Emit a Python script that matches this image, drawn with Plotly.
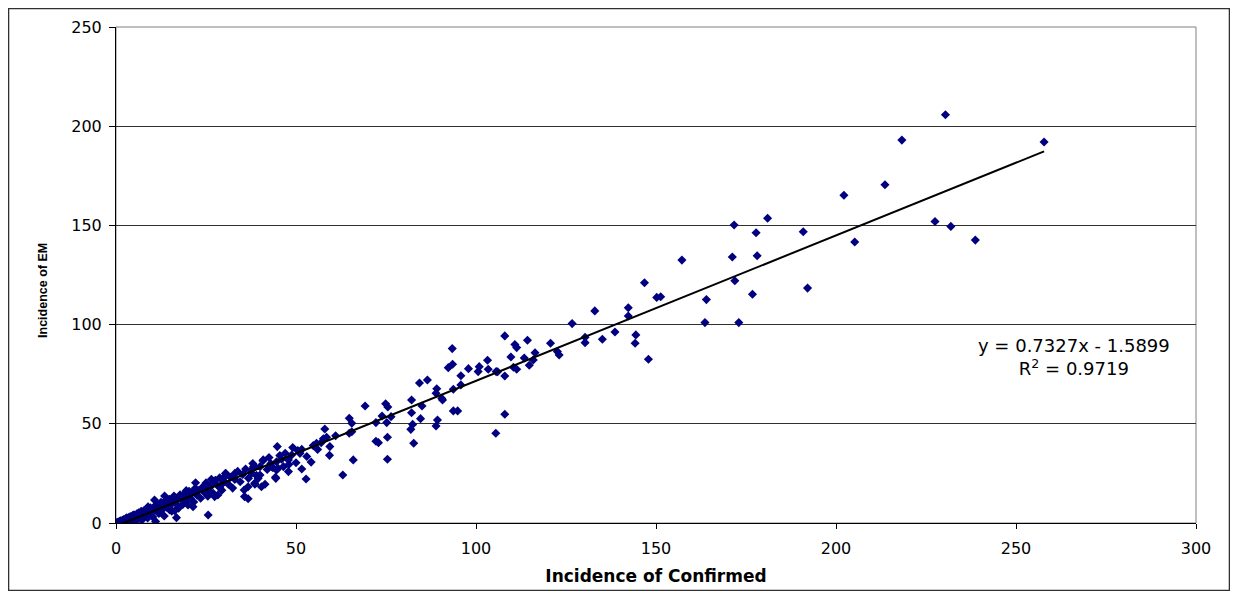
import plotly.graph_objects as go

# ---- data ----
confirmed = [
    230.4, 218.3, 257.8, 213.6, 202.2, 227.5, 231.9, 205.2, 238.7, 190.9, 192.1, 181.0, 177.8, 178.1,
    171.7, 171.2, 171.9, 176.8, 173.0, 163.6, 164.0, 157.2, 150.2, 151.3, 146.8, 147.9,
    142.3, 142.3, 144.4, 144.2, 138.6, 135.1, 133.0, 130.3, 130.3, 126.7, 120.7, 122.6, 123.1, 114.3,
    110.8, 111.3, 108.0, 116.4, 113.4, 115.9, 109.7, 114.8, 111.3, 110.4, 108.0, 105.6, 106.0, 103.2,
    103.4, 100.9, 100.6, 97.9, 93.4, 93.5, 92.3, 95.8, 95.8, 93.7, 90.5, 90.7, 93.7, 94.9, 108.0, 105.5,
    84.3, 86.5, 89.1, 88.9, 82.1, 82.1, 85.0, 84.6, 82.4, 81.9, 89.3, 88.9, 82.7, 69.2, 74.9, 75.5,
    76.4, 75.2, 73.9, 72.2, 75.4, 72.2, 72.9, 75.4, 64.8, 65.5, 64.8, 65.5, 65.9, 63.0, 58.0, 58.5,
    57.6, 55.7, 59.4, 56.0, 59.3, 54.2, 52.8, 51.6, 51.1, 49.1, 47.0, 48.8, 44.8, 47.9, 46.0, 50.0,
    51.6, 44.6, 43.2, 44.6, 46.5, 47.9, 44.4, 40.9, 40.0, 38.6, 37.7, 40.0, 39.5, 41.4, 38.6,
    40.8, 38.2, 43.6, 45.0, 38.5, 40.4, 36.7, 35.6, 44.3, 33.0, 30.4, 30.2, 26.5, 22.1, 24.6, 25.6,
    19.5, 20.9, 13.5, 16.1, 28.8, 29.7, 28.3, 27.4, 35.7, 36.7, 20.0, 21.4, 14.9, 16.3, 16.8, 25.6,
    11.2, 10.7, 8.9, 7.5, 6.1,
    0.2, 0.4, 0.5, 0.7, 0.9, 1.0, 1.2, 1.3, 1.5, 1.6, 1.8, 2.0, 2.1, 2.3, 2.5, 2.7, 2.9, 3.0, 3.2, 3.4,
    3.6, 3.8, 4.0, 4.2, 4.4, 4.6, 4.8, 5.0,
    5.3, 5.5, 5.8, 6.0, 6.3, 6.5, 6.8, 7.0, 7.2, 7.5, 7.8, 8.0, 8.3, 8.5, 8.8, 9.0, 9.3, 9.6, 9.9,
    10.2, 10.5, 10.8, 11.0, 11.3, 11.6, 11.9,
    12.2, 12.5, 12.8, 13.1, 13.4, 13.8, 14.1, 14.5, 14.8, 15.2, 15.5, 15.9, 16.3, 16.7, 17.0, 17.4,
    17.8, 18.2, 18.6, 19.0, 19.4, 19.8, 20.3, 20.7, 21.2, 21.6, 22.0, 22.5, 23.0, 23.5, 24.0, 24.5,
    25.0, 25.5, 26.0, 26.5, 27.0, 27.6, 28.2, 28.8, 29.4, 30.0, 30.6, 31.2, 31.8, 32.4, 33.0, 33.8,
    34.5, 35.2, 36.0, 36.8, 37.5, 38.0, 39.0, 42.0, 42.5, 43.0, 45.5, 48.0, 50.5, 53.0, 54.8, 57.0, 61.0,
]
em = [
    205.8, 193.0, 192.0, 170.5, 165.2, 152.0, 149.5, 141.6, 142.6, 146.8, 118.4, 153.6, 146.3, 134.7,
    150.2, 134.1, 122.1, 115.3, 101.0, 101.0, 112.6, 132.5, 113.7, 114.0, 121.1, 82.5,
    108.5, 104.3, 94.8, 90.6, 96.3, 92.6, 106.9, 90.9, 93.6, 100.5, 90.6, 86.4, 84.7, 92.1,
    90.0, 88.4, 94.3, 85.8, 83.2, 82.2, 83.7, 79.5, 77.5, 78.5, 74.1, 76.3, 76.2, 82.0,
    77.5, 78.8, 76.3, 77.8, 87.9, 80.0, 78.3, 74.2, 69.6, 67.4, 62.8, 62.0, 56.5, 56.5, 54.8, 45.2,
    70.6, 72.1, 67.7, 65.4, 62.0, 55.6, 59.0, 52.6, 49.7, 47.2, 51.9, 48.9, 40.2, 59.0, 60.1, 58.5,
    53.6, 50.6, 53.9, 50.6, 43.2, 41.2, 40.5, 32.1, 52.8, 50.3, 45.2, 46.0, 31.8, 24.2, 47.4, 43.2,
    42.5, 40.2, 38.5, 37.1, 34.1, 30.7, 22.2, 37.1, 35.1, 38.0, 35.1, 34.3, 38.5, 31.8, 32.1, 30.4,
    27.2, 30.9, 28.4, 26.7, 28.4, 25.9, 22.5, 31.8, 28.4, 28.4, 25.1, 24.2, 22.5, 19.5, 19.5,
    31.4, 28.4, 27.9, 27.6, 20.0, 18.3, 18.3, 16.6, 23.0, 25.0, 25.0, 23.3, 22.0, 20.3, 18.6, 16.6,
    16.3, 15.0, 13.6, 13.6, 18.0, 20.0, 14.1, 13.3, 13.3, 12.2, 9.1, 8.2, 6.6, 6.2, 2.7, 4.0,
    8.2, 11.6, 8.2, 5.7, 4.5,
    0.1, 0.3, 0.0, 0.5, 0.2, 0.8, 0.4, 1.1, 0.6, 0.0, 1.4, 0.9, 1.8, 0.5, 1.6, 2.2, 1.0, 2.6, 1.7, 0.3,
    2.9, 2.0, 3.3, 1.2, 2.7, 3.8, 2.1, 4.1,
    2.8, 0.9, 4.6, 3.5, 5.2, 2.4, 4.0, 5.9, 1.5, 4.8, 6.3, 3.6, 5.7, 7.0, 2.5, 6.2, 4.4, 7.6, 5.8,
    3.1, 8.1, 6.5, 0.8, 9.0, 7.0, 4.8,
    8.8, 10.4, 6.6, 9.5, 3.5, 11.2, 8.0, 10.2, 12.0, 9.1, 6.0, 11.5, 13.0, 9.8, 11.8, 7.5,
    14.2, 12.0, 9.4, 14.8, 11.2, 13.6, 16.0, 12.4, 15.2, 10.6, 17.5, 14.0, 16.4, 12.5, 18.0, 15.5,
    20.2, 13.5, 17.8, 19.6, 15.0, 21.5, 18.9, 22.8, 16.5, 21.0, 24.8, 19.5, 23.0, 17.6, 22.0, 26.0,
    20.8, 24.5, 27.2, 22.5, 26.5, 30.0, 24.0, 27.0, 33.0, 30.0, 34.0, 29.5, 36.5, 33.5, 39.0, 40.5, 44.0,
]

trend_slope = 0.7327
trend_intercept = -1.5899
r_squared = 0.9719

x_ticks = [0, 50, 100, 150, 200, 250, 300]
y_ticks = [0, 50, 100, 150, 200, 250]

# trendline spans the data range
tx = [min(confirmed), max(confirmed)]
ty = [trend_slope * v + trend_intercept for v in tx]

fig = go.Figure()
fig.add_trace(go.Scatter(
    x=confirmed, y=em, mode="markers",
    marker=dict(symbol="diamond", size=7, color="#000080", line=dict(width=0)),
    showlegend=False, hoverinfo="x+y",
))
fig.add_trace(go.Scatter(
    x=tx, y=ty, mode="lines", line=dict(color="black", width=2),
    showlegend=False, hoverinfo="skip",
))

wide_font = "DejaVu Sans, Verdana, sans-serif"
narrow_font = "Liberation Sans, Arial, sans-serif"

fig.update_layout(
    width=1222, height=583,
    margin=dict(l=108, r=34, t=19, b=68),
    paper_bgcolor="white", plot_bgcolor="white",
    font=dict(family=wide_font, size=16, color="black"),
    xaxis=dict(
        range=[0, 300], tickvals=x_ticks, ticks="outside", ticklen=5, tickcolor="black",
        ticklabelstandoff=6, automargin=False,
        showgrid=False, zeroline=False, showline=True, linecolor="black", linewidth=1,
        title=dict(text="<b>Incidence of Confirmed</b>", font=dict(family=wide_font, size=17),
                   standoff=12),
        tickfont=dict(family=wide_font, size=16),
    ),
    yaxis=dict(
        range=[0, 250], tickvals=y_ticks, ticks="outside", ticklen=6, tickcolor="black",
        ticklabelstandoff=4, automargin=False,
        showgrid=True, gridcolor="#303030", gridwidth=1, zeroline=False,
        showline=True, linecolor="black", linewidth=1,
        tickfont=dict(family=wide_font, size=16),
    ),
    shapes=[
        dict(type="rect", xref="paper", yref="paper", x0=0, x1=1, y0=0, y1=1,
             line=dict(color="#808080", width=1), layer="below"),
        dict(type="rect", xref="paper", yref="paper",
             x0=-0.0995, x1=1.0310, y0=-0.1361, y1=1.0373,
             line=dict(color="#303030", width=1.5), layer="below"),
    ],
    annotations=[
        dict(x=266.1, y=83.7, xref="x", yref="y", showarrow=False, align="center",
             xanchor="center", yanchor="middle",
             text=f"y = {trend_slope}x - {abs(trend_intercept)}<br>R<sup>2</sup> = {r_squared}",
             font=dict(family=wide_font, size=18, color="black")),
        dict(x=-0.0676, y=0.4698, xref="paper", yref="paper", showarrow=False,
             xanchor="center", yanchor="middle",
             textangle=-90, text="<b>Incidence of EM</b>",
             font=dict(family=narrow_font, size=12.5, color="black")),
    ],
)

fig.write_html("out.html")
